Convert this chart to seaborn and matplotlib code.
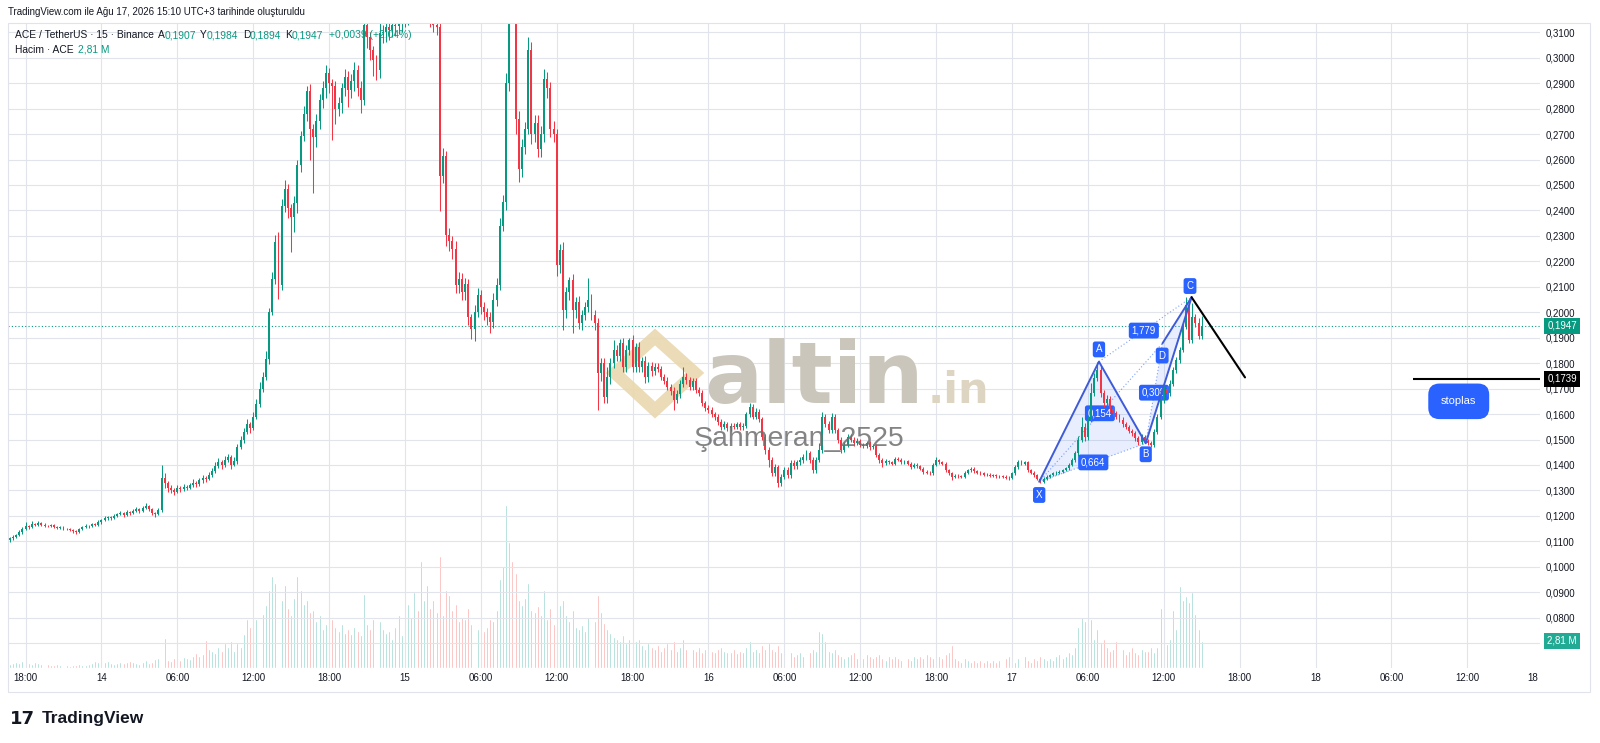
import numpy as np
import pandas as pd
import matplotlib
matplotlib.use("Agg")
import matplotlib.pyplot as plt
import matplotlib.transforms as mtransforms
from matplotlib.patches import Rectangle, Polygon
import seaborn as sns

W, H = 1600, 743

# 15 dakikalik mumlar: 13 Agu 16:45 -> 17 Agu 15:00, fiyatlar x 1e-4
first_open = 1105
close_1e4 = [
    1112, 1118, 1124, 1135, 1148, 1160, 1158, 1168, 1165, 1170, 1166, 1162,
    1160, 1163, 1156, 1153, 1157, 1150, 1148, 1146, 1140, 1136, 1148, 1156,
    1162, 1159, 1167, 1164, 1174, 1182, 1190, 1194, 1190, 1200, 1206, 1211,
    1203, 1214, 1211, 1220, 1226, 1218, 1230, 1238, 1226, 1212, 1206, 1222,
    1350, 1328, 1310, 1300, 1294, 1308, 1304, 1314, 1311, 1320, 1330, 1325,
    1340, 1350, 1345, 1360, 1375, 1395, 1410, 1400, 1420, 1430, 1400, 1415,
    1470, 1499, 1530, 1560, 1545, 1590, 1640, 1700, 1745, 1818, 2000, 2132,
    2275, 2106, 2419, 2484, 2410, 2375, 2430, 2580, 2693, 2780, 2870, 2720,
    2690, 2750, 2834, 2880, 2939, 2900, 2887, 2800, 2821, 2880, 2926, 2873,
    2910, 2952, 2880, 2834, 3130, 3080, 3031, 2990, 2952, 3096, 3100, 3122,
    3110, 3130, 3125, 3140, 3150, 3170, 3200, 3230, 3260, 3250, 3280, 3300,
    3270, 3150, 3130, 3120, 2537, 2615, 2302, 2280, 2250, 2106, 2130, 2080,
    2110, 1980, 1936, 2000, 2067, 2020, 2000, 1980, 1960, 2050, 2106, 2340,
    2432, 2900, 3250, 3200, 2760, 2563, 2650, 2719, 3030, 2700, 2745, 2640,
    2700, 2915, 2880, 2720, 2700, 2184, 2245, 2009, 2080, 2127, 2009, 2040,
    1956, 1990, 2022, 2048, 1990, 1956, 1760, 1800, 1668, 1747, 1800, 1852,
    1830, 1878, 1786, 1852, 1890, 1786, 1865, 1786, 1810, 1747, 1790, 1770,
    1786, 1776, 1747, 1730, 1708, 1690, 1655, 1680, 1720, 1747, 1735, 1708,
    1730, 1695, 1681, 1642, 1625, 1616, 1600, 1590, 1570, 1551, 1560, 1545,
    1555, 1550, 1560, 1548, 1555, 1600, 1629, 1590, 1610, 1580, 1511, 1460,
    1419, 1370, 1390, 1328, 1354, 1380, 1360, 1406, 1395, 1410, 1419, 1430,
    1446, 1420, 1380, 1420, 1459, 1590, 1560, 1537, 1590, 1537, 1500, 1459,
    1480, 1510, 1500, 1485, 1495, 1480, 1475, 1485, 1470, 1475, 1440, 1419,
    1407, 1415, 1410, 1405, 1425, 1420, 1410, 1415, 1405, 1393, 1400, 1395,
    1385, 1373, 1370, 1367, 1400, 1419, 1410, 1405, 1380, 1367, 1354, 1358,
    1355, 1352, 1370, 1380, 1385, 1375, 1370, 1367, 1360, 1362, 1358, 1360,
    1355, 1357, 1354, 1350, 1348, 1367, 1390, 1413, 1405, 1410, 1380, 1370,
    1360, 1345, 1334, 1345, 1354, 1360, 1367, 1370, 1374, 1380, 1387, 1400,
    1420, 1446, 1500, 1550, 1511, 1577, 1681, 1740, 1773, 1681, 1642, 1660,
    1620, 1603, 1590, 1577, 1560, 1550, 1535, 1524, 1505, 1491, 1511, 1495,
    1485, 1478, 1531, 1590, 1655, 1700, 1681, 1720, 1773, 1812, 1852, 1943,
    2027, 1891, 1983, 1956, 1907, 1947,
]
wick_up = [
    6, 8, 5, 10, 8, 14, 6, 12, 5, 8, 4, 6,
    4, 6, 4, 3, 5, 3, 4, 3, 4, 5, 6, 5,
    5, 4, 6, 3, 8, 6, 10, 5, 4, 8, 6, 9,
    5, 8, 6, 7, 9, 5, 10, 12, 5, 4, 5, 8,
    50, 20, 10, 12, 8, 12, 9, 10, 7, 9, 14, 8,
    10, 12, 8, 14, 12, 15, 18, 10, 16, 14, 10, 15,
    12, 15, 14, 20, 10, 18, 20, 25, 22, 30, 15, 25,
    30, 40, 25, 35, 20, 15, 25, 20, 20, 30, 20, 25,
    20, 30, 25, 30, 33, 20, 15, 20, 25, 20, 30, 20,
    25, 30, 20, 30, 60, 30, 20, 15, 20, 40, 30, 30,
    30, 40, 20, 30, 40, 40, 60, 60, 80, 50, 60, 80,
    60, 40, 20, 30, 20, 30, 20, 30, 20, 30, 30, 25,
    25, 20, 15, 30, 30, 20, 20, 15, 20, 25, 30, 30,
    30, 40, 80, 60, 40, 30, 30, 30, 52, 30, 30, 30,
    30, 40, 30, 25, 30, 20, 25, 30, 20, 13, 25, 20,
    25, 20, 20, 85, 25, 20, 20, 20, 20, 39, 20, 38,
    20, 15, 20, 20, 10, 20, 15, 20, 15, 20, 15, 15,
    15, 15, 12, 12, 15, 12, 15, 15, 15, 39, 15, 12,
    12, 12, 12, 12, 10, 10, 10, 10, 10, 10, 12, 10,
    10, 10, 10, 10, 10, 10, 13, 12, 12, 10, 10, 10,
    10, 12, 12, 10, 12, 12, 10, 13, 12, 10, 12, 12,
    12, 10, 10, 10, 26, 19, 12, 12, 13, 12, 10, 10,
    10, 12, 10, 10, 10, 8, 8, 10, 8, 8, 8, 8,
    8, 8, 6, 6, 8, 6, 6, 6, 6, 6, 6, 6,
    6, 6, 6, 6, 8, 13, 6, 6, 6, 6, 6, 6,
    5, 5, 6, 6, 5, 5, 5, 5, 5, 5, 5, 5,
    5, 5, 5, 5, 5, 6, 8, 7, 6, 6, 6, 5,
    5, 5, 5, 6, 5, 6, 5, 5, 6, 6, 6, 6,
    8, 10, 15, 40, 15, 15, 40, 20, 32, 15, 15, 15,
    12, 10, 10, 10, 10, 10, 8, 8, 8, 8, 10, 8,
    8, 8, 10, 12, 26, 15, 12, 12, 12, 12, 12, 12,
    34, 10, 52, 10, 20, 37,
]
wick_dn = [
    8, 5, 6, 4, 6, 5, 8, 4, 6, 5, 6, 5,
    5, 3, 4, 5, 3, 6, 3, 4, 6, 8, 4, 3,
    4, 6, 3, 5, 4, 5, 3, 6, 7, 4, 5, 4,
    6, 4, 7, 5, 5, 8, 4, 5, 6, 8, 10, 4,
    5, 20, 15, 10, 12, 6, 10, 8, 10, 7, 8, 12,
    8, 10, 12, 6, 9, 8, 7, 14, 8, 9, 16, 6,
    10, 8, 12, 10, 20, 8, 10, 12, 15, 10, 20, 12,
    20, 53, 20, 25, 40, 140, 60, 40, 30, 20, 30, 120,
    220, 40, 30, 30, 40, 40, 210, 60, 30, 40, 30, 65,
    30, 40, 30, 50, 20, 40, 40, 60, 40, 30, 40, 40,
    40, 30, 40, 30, 40, 30, 40, 50, 40, 60, 40, 40,
    40, 30, 30, 30, 140, 30, 40, 40, 40, 30, 30, 30,
    30, 30, 40, 50, 20, 25, 30, 30, 40, 20, 25, 20,
    20, 30, 30, 40, 60, 50, 30, 30, 20, 40, 30, 30,
    30, 30, 40, 30, 30, 40, 30, 79, 30, 30, 92, 30,
    20, 25, 20, 20, 20, 25, 144, 30, 26, 26, 30, 20,
    20, 20, 20, 20, 20, 20, 20, 20, 20, 25, 20, 20,
    15, 12, 15, 12, 15, 15, 39, 12, 15, 15, 15, 15,
    12, 12, 12, 12, 12, 13, 12, 12, 12, 12, 10, 10,
    10, 10, 10, 10, 10, 10, 10, 10, 10, 10, 12, 15,
    26, 15, 12, 13, 12, 10, 12, 10, 12, 10, 12, 10,
    10, 12, 12, 10, 10, 12, 12, 12, 10, 12, 12, 12,
    10, 8, 10, 10, 8, 10, 8, 8, 10, 8, 10, 10,
    14, 6, 6, 6, 6, 6, 6, 6, 6, 8, 6, 6,
    6, 8, 6, 6, 6, 6, 6, 6, 8, 8, 13, 6,
    5, 5, 5, 5, 6, 6, 5, 5, 5, 5, 5, 5,
    5, 5, 5, 5, 6, 5, 6, 6, 6, 6, 6, 6,
    6, 6, 6, 5, 5, 5, 5, 5, 5, 5, 5, 5,
    6, 8, 10, 10, 15, 12, 10, 12, 12, 15, 15, 12,
    10, 10, 10, 10, 10, 10, 10, 10, 10, 13, 8, 8,
    5, 8, 8, 8, 8, 10, 10, 10, 10, 10, 10, 10,
    10, 10, 10, 13, 13, 13,
]
# hacim, 0.1M birimi
volume_01m = [
    4, 5, 6, 5, 7, 6, 5, 4, 6, 5, 4, 5,
    4, 3, 3, 4, 3, 3, 3, 2, 3, 3, 4, 3,
    3, 4, 5, 7, 6, 5, 6, 7, 5, 4, 5, 6,
    5, 6, 7, 6, 5, 4, 6, 8, 5, 6, 9, 10,
    19, 31, 8, 7, 10, 9, 8, 11, 10, 9, 12, 15,
    12, 14, 29, 20, 18, 15, 22, 17, 26, 22, 28, 18,
    26, 22, 35, 50, 42, 58, 50, 62, 56, 65, 80, 95,
    88, 92, 70, 85, 62, 55, 72, 95, 80, 66, 70, 58,
    60, 48, 55, 40, 45, 62, 50, 42, 38, 45, 36, 40,
    35, 42, 38, 34, 76, 45, 40, 50, 30, 48, 40, 36,
    38, 30, 42, 55, 34, 40, 66, 52, 78, 60, 110, 70,
    85, 62, 70, 58, 115, 55, 80, 75, 60, 66, 48, 52,
    50, 62, 45, 58, 40, 55, 38, 42, 50, 48, 60, 92,
    105, 168, 130, 110, 98, 70, 65, 72, 88, 60, 58, 64,
    55, 80, 50, 62, 45, 108, 65, 70, 55, 48, 60, 42,
    40, 44, 38, 52, 35, 48, 75, 58, 46, 40, 36, 32,
    30, 28, 34, 26, 30, 22, 28, 30, 24, 20, 26, 22,
    20, 24, 18, 22, 26, 20, 28, 18, 22, 30, 20, 24,
    20, 18, 22, 16, 20, 26, 18, 16, 20, 22, 18, 16,
    16, 20, 15, 18, 16, 22, 28, 18, 20, 16, 24, 20,
    26, 20, 18, 24, 16, 14, 18, 16, 12, 14, 16, 12,
    14, 16, 20, 18, 38, 36, 28, 18, 16, 20, 14, 12,
    10, 12, 14, 16, 10, 12, 10, 14, 12, 10, 12, 14,
    10, 8, 12, 10, 12, 10, 8, 14, 10, 8, 12, 10,
    12, 10, 14, 12, 10, 22, 12, 10, 14, 16, 24, 10,
    8, 6, 10, 8, 6, 8, 6, 8, 6, 8, 6, 8,
    6, 8, 8, 10, 12, 8, 6, 10, 8, 12, 8, 6,
    10, 8, 12, 10, 8, 10, 8, 12, 14, 10, 12, 16,
    14, 22, 42, 52, 48, 56, 50, 30, 40, 26, 30, 22,
    18, 20, 28, 16, 20, 14, 18, 22, 16, 14, 20, 18,
    18, 22, 16, 22, 62, 44, 25, 30, 60, 40, 84, 70,
    74, 68, 78, 56, 40, 28,
]

# eksen etiketleri
time_labels = ["18:00", "14", "06:00", "12:00", "18:00", "15", "06:00", "12:00", "18:00", "16",
               "06:00", "12:00", "18:00", "17", "06:00", "12:00", "18:00", "18", "06:00", "12:00"]
time_pos = [5 + 24 * k for k in range(len(time_labels))]
price_ticks = [round(0.07 + 0.01 * k, 2) for k in range(25)]

# harmonik formasyon (X A B C D)
pat_names = ["X", "A", "B", "C", "D"]
pat_x = [325.6, 344.5, 359.3, 373.8, 364.6]
pat_y = [0.1334, 0.1806, 0.1485, 0.2059, 0.1878]
pat_label_x = [325.6, 344.5, 359.3, 373.3, 364.5]
pat_label_y = [0.1282, 0.1854, 0.1442, 0.2103, 0.1830]
ratio_text = ["0,664", "0,154", "0,308", "1,779"]
ratio_x = [342.7, 344.8, 361.9, 358.7]
ratio_y = [0.1410, 0.1603, 0.1684, 0.1928]

proj_x = [373.8, 390.7]
proj_y = [0.2059, 0.1744]
last_price = 0.1947
stop_price = 0.1739
stop_start = 443.8
last_vol = 2.81

sns.set_style("white")
plt.rcParams["font.family"] = ["Liberation Sans", "DejaVu Sans"]

c = np.array(close_1e4) / 1e4
o = np.r_[first_open / 1e4, c[:-1]]
df = pd.DataFrame({
    "i": np.arange(len(c)),
    "open": o,
    "close": c,
    "high": np.maximum(o, c) + np.array(wick_up) / 1e4,
    "low": np.minimum(o, c) - np.array(wick_dn) / 1e4,
    "vol": np.array(volume_01m) / 10,
})
df["yon"] = np.where(df["close"] >= df["open"], "up", "down")

fig = plt.figure(figsize=(W / 100, H / 100), dpi=100)
rect = [8 / W, 1 - 668 / H, 1532 / W, 645 / H]

# hacim paneli (arka)
vax = fig.add_axes(rect)
sns.barplot(data=df, x="i", y="vol", hue="yon",
            palette={"up": "#8fd0c9", "down": "#f6a5a3"},
            dodge=False, native_scale=True, errorbar=None, legend=False,
            width=0.62, saturation=1, ax=vax)
vax.set_ylim(0, last_vol * 645 / 27.3)
vax.axis("off")

# fiyat paneli
ax = fig.add_axes(rect, sharex=vax)
ax.patch.set_alpha(0)
renk = np.where(df["yon"] == "up", "#089981", "#f23645")
ax.vlines(df["i"], df["low"], df["high"], colors=renk, lw=0.75, zorder=3)
body = (df["close"] - df["open"]).abs().clip(lower=0.00004)
ax.bar(df["i"], body, bottom=df[["open", "close"]].min(axis=1), width=0.62,
       color=renk, lw=0, zorder=3)

ax.set_xlim(-0.55, 484)
ax.set_ylim(0.06022, 0.31365)
ax.set_xticks(time_pos)
ax.set_xticklabels(time_labels)
ax.set_yticks(price_ticks)
# 0,0700 etiketi hacim kutusunun altinda kaliyor
ax.set_yticklabels(["" if v < 0.075 else f"{v:.4f}".replace(".", ",") for v in price_ticks])
ax.yaxis.tick_right()
ax.tick_params(axis="y", length=0, pad=4, labelsize=7, labelcolor="#131722")
ax.tick_params(axis="x", length=0, pad=3.6, labelsize=7, labelcolor="#131722")
ax.grid(color="#e1e4ea", lw=0.8)
ax.set_axisbelow(True)
for s in ax.spines.values():
    s.set_visible(False)
ax.text(481.7, 1 - 678 / H, "18", transform=mtransforms.blended_transform_factory(ax.transData, fig.transFigure),
        ha="center", va="center", fontsize=7, color="#131722")

# son fiyat cizgisi
ax.axhline(last_price, color="#089981", ls=(0, (1, 2)), lw=0.8, zorder=2)

# filigran
ax.add_patch(Polygon([(655 / W, 1 - 337 / H), (695 / W, 1 - 373 / H), (655 / W, 1 - 410 / H), (615 / W, 1 - 373 / H)],
                     closed=True, fill=False, ec="#e9d8ae", lw=9, alpha=0.9, transform=fig.transFigure, zorder=1.5))
ax.text(704 / W, 1 - 403 / H, "altin", transform=fig.transFigure, fontsize=62, fontweight="bold",
        family="DejaVu Sans", color="#cbc6bb", va="baseline", zorder=1.6)
ax.text(928 / W, 1 - 403 / H, ".in", transform=fig.transFigure, fontsize=31, fontweight="bold",
        family="DejaVu Sans", color="#ddd5c1", va="baseline", zorder=1.6)

# harmonik formasyon
bl = "#2962ff"
ax.fill([pat_x[0], pat_x[1], pat_x[2]], [pat_y[0], pat_y[1], pat_y[2]], color=bl, alpha=0.1, lw=0, zorder=2)
ax.fill([pat_x[2], pat_x[3], pat_x[4]], [pat_y[2], pat_y[3], pat_y[4]], color=bl, alpha=0.1, lw=0, zorder=2)
ax.plot(pat_x[:4], pat_y[:4], color="#3d5bd9", lw=1.4, zorder=4)
ax.plot(pat_x[3:5], pat_y[3:5], color="#3d5bd9", lw=1.4, zorder=4)
for a, b in [(0, 2), (1, 3), (2, 4), (0, 4)]:
    ax.plot([pat_x[a], pat_x[b]], [pat_y[a], pat_y[b]], color=bl, lw=0.8, ls=(0, (1, 2)), alpha=0.6, zorder=2)
for t, x, y in zip(ratio_text, ratio_x, ratio_y):
    ax.text(x, y, t, ha="center", va="center", fontsize=7, color="white", zorder=2.5,
            bbox=dict(boxstyle="round,pad=0.3,rounding_size=0.25", fc=bl, ec="none"))
for t, x, y in zip(pat_names, pat_label_x, pat_label_y):
    ax.text(x, y, t, ha="center", va="center", fontsize=7, color="white", zorder=5,
            bbox=dict(boxstyle="round,pad=0.3,rounding_size=0.25", fc=bl, ec="none"))

# hedef / stop cizgileri
ax.plot(proj_x, proj_y, color="black", lw=1.5, zorder=5)
ax.hlines(stop_price, stop_start, 484, color="black", lw=1.5, zorder=5)
ax.text(458.3, 0.1650, "stoplas", ha="center", va="center", fontsize=8, color="white", zorder=6,
        bbox=dict(boxstyle="round,pad=1.15,rounding_size=1.0", fc="#2962ff", ec="none"))

# Şahmeran yazisi
ax.text(799 / W, 1 - 439 / H, "Şahmeran_2525", transform=fig.transFigure, ha="center", va="center",
        fontsize=20.5, color="#6e6e6e", alpha=0.85, zorder=6)

# fiyat ekseni kutulari
tp = mtransforms.blended_transform_factory(fig.transFigure, ax.transData)
tv = mtransforms.blended_transform_factory(fig.transFigure, vax.transData)
ax.text(1562 / W, last_price, "0,1947", transform=tp, ha="center", va="center", fontsize=7, color="white",
        zorder=7, bbox=dict(boxstyle="square,pad=0.3", fc="#089981", ec="none"))
ax.text(1562 / W, stop_price, "0,1739", transform=tp, ha="center", va="center", fontsize=7, color="white",
        zorder=7, bbox=dict(boxstyle="square,pad=0.3", fc="#000000", ec="none"))
ax.text(1562 / W, last_vol, "2,81 M", transform=tv, ha="center", va="center", fontsize=7, color="white",
        zorder=7, bbox=dict(boxstyle="square,pad=0.3", fc="#22ab94", ec="none"))

# ust bilgi satirlari
fig.text(8 / W, 1 - 12 / H, "TradingView.com ile Ağu 17, 2026 15:10 UTC+3 tarihinde oluşturuldu",
         fontsize=7, color="#131722", va="center")
dark, teal = "#131722", "#089981"
legend_parts = [(15, "ACE / TetherUS · 15 · Binance", dark), (158, "A", dark), (165, "0,1907", teal),
                (200, "Y", dark), (207, "0,1984", teal), (243, "D", dark), (250, "0,1894", teal),
                (285, "K", dark), (292, "0,1947", teal), (329, "+0,0039 (+2,04%)", teal)]
for x, t, col in legend_parts:
    fig.text(x / W, 1 - 35 / H, t, fontsize=7.4, color=col, va="center")
fig.text(15 / W, 1 - 50 / H, "Hacim · ACE", fontsize=7.4, color=dark, va="center")
fig.text(78 / W, 1 - 50 / H, "2,81 M", fontsize=7.4, color=teal, va="center")

# cerceve ve logo
fig.add_artist(Rectangle((8 / W, 1 - 692 / H), 1582 / W, 669 / H, transform=fig.transFigure,
                         fill=False, ec="#e0e3eb", lw=0.8))
fig.text(10 / W, 1 - 719 / H, "17", fontsize=13, fontweight="heavy", family="DejaVu Sans",
         color="#131722", va="center")
fig.text(42 / W, 1 - 719 / H, "TradingView", fontsize=12.5, fontweight="bold", color="#131722", va="center")

fig.savefig("out.png", dpi=100)
